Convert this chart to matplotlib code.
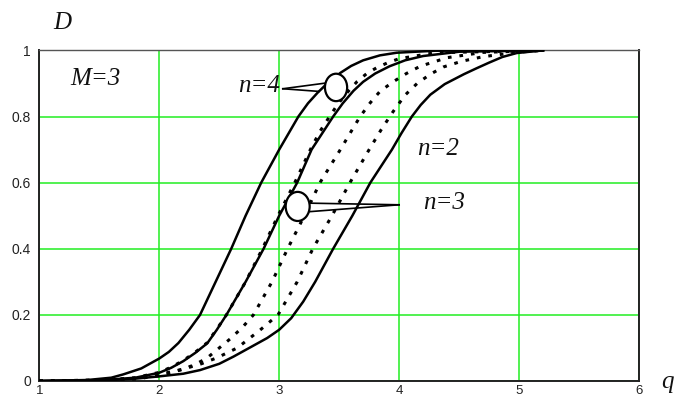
import matplotlib
matplotlib.use("Agg")
import matplotlib.pyplot as plt
from matplotlib.patches import Ellipse

# curves: D against q
q_s1 = [1.0, 1.4, 1.6, 1.7, 1.85, 2.0, 2.08, 2.16, 2.25, 2.34, 2.47, 2.60, 2.72, 2.85, 3.0, 3.08, 3.16, 3.24, 3.32, 3.40, 3.51, 3.6, 3.70, 3.84, 3.98, 4.3, 5.2]
d_s1 = [0.0, 0.003, 0.01, 0.02, 0.038, 0.068, 0.088, 0.115, 0.155, 0.20, 0.30, 0.40, 0.50, 0.60, 0.70, 0.75, 0.80, 0.84, 0.872, 0.90, 0.932, 0.953, 0.97, 0.985, 0.993, 0.999, 1.0]

q_s2 = [1.0, 1.5, 1.8, 2.0, 2.1, 2.2, 2.3, 2.40, 2.48, 2.56, 2.72, 2.87, 3.0, 3.15, 3.27, 3.36, 3.45, 3.53, 3.62, 3.70, 3.80, 3.92, 4.05, 4.2, 4.5, 5.2]
d_s2 = [0.0, 0.002, 0.01, 0.025, 0.04, 0.06, 0.085, 0.114, 0.155, 0.20, 0.30, 0.40, 0.50, 0.60, 0.70, 0.75, 0.80, 0.84, 0.878, 0.905, 0.93, 0.952, 0.97, 0.983, 0.996, 1.0]

q_s3 = [1.0, 1.6, 1.8, 2.0, 2.2, 2.34, 2.5, 2.62, 2.8, 2.9, 3.0, 3.1, 3.2, 3.30, 3.45, 3.61, 3.76, 3.94, 4.02, 4.106, 4.18, 4.26, 4.38, 4.54, 4.64, 4.75, 4.86, 4.98, 5.2]
d_s3 = [0.0, 0.003, 0.007, 0.014, 0.022, 0.033, 0.052, 0.074, 0.11, 0.13, 0.155, 0.19, 0.24, 0.30, 0.40, 0.50, 0.60, 0.70, 0.75, 0.80, 0.835, 0.866, 0.898, 0.928, 0.945, 0.963, 0.98, 0.992, 1.0]

q_d1 = [1.0, 1.5, 1.8, 2.0, 2.1, 2.2, 2.3, 2.40, 2.48, 2.56, 2.72, 2.86, 2.99, 3.13, 3.26, 3.34, 3.42, 3.49, 3.56, 3.65, 3.73, 3.81, 3.9, 4.0, 4.3, 5.2]
d_d1 = [0.0, 0.002, 0.01, 0.026, 0.042, 0.062, 0.087, 0.116, 0.157, 0.20, 0.30, 0.40, 0.50, 0.60, 0.70, 0.755, 0.80, 0.838, 0.87, 0.906, 0.93, 0.947, 0.962, 0.975, 0.993, 1.0]

q_d2 = [1.0, 1.6, 1.8, 2.0, 2.1, 2.2, 2.3, 2.40, 2.5, 2.6, 2.7, 2.785, 2.94, 3.07, 3.21, 3.34, 3.51, 3.6, 3.675, 3.76, 3.84, 3.95, 4.06, 4.175, 4.4, 4.7, 5.2]
d_d2 = [0.0, 0.003, 0.006, 0.016, 0.025, 0.036, 0.05, 0.07, 0.10, 0.13, 0.165, 0.20, 0.30, 0.40, 0.50, 0.60, 0.70, 0.755, 0.80, 0.842, 0.876, 0.905, 0.93, 0.952, 0.978, 0.994, 1.0]

q_d3 = [1.0, 1.7, 1.8, 2.0, 2.2, 2.35, 2.48, 2.65, 2.84, 2.99, 3.15, 3.28, 3.44, 3.59, 3.75, 3.85, 3.95, 4.05, 4.15, 4.26, 4.37, 4.52, 4.70, 5.0, 5.2]
d_d3 = [0.0, 0.004, 0.008, 0.02, 0.036, 0.052, 0.07, 0.10, 0.154, 0.20, 0.30, 0.40, 0.50, 0.60, 0.70, 0.76, 0.815, 0.865, 0.9, 0.928, 0.95, 0.967, 0.981, 0.995, 1.0]

x_ticks = [1, 2, 3, 4, 5, 6]
y_ticks = [0, 0.2, 0.4, 0.6, 0.8, 1]
y_labels = ["0", "0.2", "0.4", "0.6", "0.8", "1"]

fig = plt.figure(figsize=(6.78, 4.0), dpi=100)
ax = fig.add_axes([0.058, 0.0475, 0.8845, 0.8265])

serif = "Liberation Serif"
txt = dict(family=serif, style="italic", size=18, color="#111111")

# solid curves
for q, d in [(q_s1, d_s1), (q_s2, d_s2), (q_s3, d_s3)]:
    ax.plot(q, d, color="black", lw=1.8, zorder=3)
# dotted curves
for q, d in [(q_d1, d_d1), (q_d2, d_d2), (q_d3, d_d3)]:
    ax.plot(q, d, color="black", lw=2.2, linestyle=(0, (1.2, 2.6)), zorder=3)

ax.set_xlim(1, 6)
ax.set_ylim(0, 1)
ax.set_xticks(x_ticks)
ax.set_yticks(y_ticks)
ax.set_yticklabels(y_labels)
ax.tick_params(axis="y", length=0, labelsize=10, pad=6)
ax.tick_params(axis="x", length=0, labelsize=9.5, pad=3)
for lab in ax.get_xticklabels() + ax.get_yticklabels():
    lab.set_family("Liberation Sans")
    lab.set_color("#222222")
ax.grid(True, color="#22ee22", lw=1.1)
ax.set_axisbelow(True)
for side in ["left", "bottom", "right"]:
    ax.spines[side].set_color("#222222")
    ax.spines[side].set_linewidth(1.4)
ax.spines["top"].set_color("#555555")
ax.spines["top"].set_linewidth(1.0)

# labels with pointer circles
ax.add_patch(Ellipse((3.474, 0.888), 0.185, 0.083, facecolor="white",
                     edgecolor="black", lw=1.6, zorder=5))
ax.plot([3.03, 3.383], [0.884, 0.901], color="black", lw=1.2, zorder=4)
ax.plot([3.03, 3.330], [0.884, 0.876], color="black", lw=1.2, zorder=4)
ax.text(3.01, 0.893, "n=4", ha="right", va="center", **txt)

ax.add_patch(Ellipse((3.154, 0.528), 0.2, 0.088, facecolor="white",
                     edgecolor="black", lw=1.6, zorder=5))
ax.plot([3.245, 4.0], [0.538, 0.533], color="black", lw=1.2, zorder=4)
ax.plot([3.245, 4.0], [0.512, 0.533], color="black", lw=1.2, zorder=4)
ax.text(4.375, 0.539, "n=3", ha="center", va="center", **txt)

ax.text(4.325, 0.702, "n=2", ha="center", va="center", **txt)
ax.text(1.469, 0.914, "M=3", ha="center", va="center", **txt)

fig.text(0.0914, 0.9425, "D", ha="center", va="center", **txt)
fig.text(0.984, 0.045, "q", ha="center", va="center", **txt)

plt.savefig("out.png", dpi=100)
